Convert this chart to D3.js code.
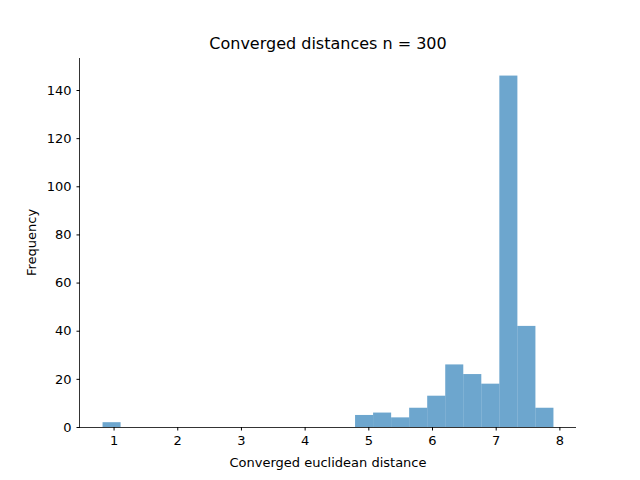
<!DOCTYPE html>
<html lang="en">
<head>
<meta charset="UTF-8">
<script src="https://d3js.org/d3.v7.min.js"></script>
<style>
  body { margin: 0; background: #fff; font-family: "DejaVu Sans", sans-serif; }
  .tick text { font-size: 13px; font-family: "DejaVu Sans", sans-serif; }
</style>
</head>
<body>
<svg width="640" height="480"></svg>
<script>
// histogram: 25 bins from binStart, width binWidth
const binStart = 0.827;
const binWidth = 0.2832;
const counts = [2, 0, 0, 0, 0, 0, 0, 0, 0, 0, 0, 0, 0, 0, 5, 6, 4, 8, 13, 26, 22, 18, 146, 42, 8];
const xTicks = [1, 2, 3, 4, 5, 6, 7, 8];
const yTicks = [0, 20, 40, 60, 80, 100, 120, 140];

const svg = d3.select("svg");
const plotL = 80, plotR = 576, plotT = 58, plotB = 427;

const bins = counts.map((c, i) => ({ x0: binStart + i * binWidth, x1: binStart + (i + 1) * binWidth, c }));
const xMin = bins[0].x0, xMax = bins[bins.length - 1].x1;
const pad = (xMax - xMin) * 0.05;

const x = d3.scaleLinear().domain([xMin - pad, xMax + pad]).range([plotL, plotR]);
const y = d3.scaleLinear().domain([0, d3.max(counts) * 1.05]).range([plotB, plotT]);

svg.append("g").selectAll("rect")
  .data(bins.filter(d => d.c > 0))
  .enter().append("rect")
  .attr("x", d => x(d.x0))
  .attr("width", d => x(d.x1) - x(d.x0))
  .attr("y", d => y(d.c))
  .attr("height", d => y(0) - y(d.c))
  .attr("fill", "#1f77b4")
  .attr("fill-opacity", 0.65);

svg.append("g")
  .attr("transform", `translate(0,${plotB})`)
  .call(d3.axisBottom(x).tickValues(xTicks).tickSize(3.5).tickPadding(5).tickSizeOuter(0))
  .call(g => g.select(".domain").attr("d", `M${plotL},0.5H${plotR}`));

svg.append("g")
  .attr("transform", `translate(${plotL},0)`)
  .call(d3.axisLeft(y).tickValues(yTicks).tickSize(3.5).tickPadding(5).tickSizeOuter(0))
  .call(g => g.select(".domain").attr("d", `M-0.5,${plotB}V${plotT}`));

svg.selectAll(".domain").attr("stroke", "#000").attr("stroke-width", 0.8);
svg.selectAll(".tick text").attr("fill", "#000");

svg.append("text")
  .attr("x", (plotL + plotR) / 2).attr("y", 49)
  .attr("text-anchor", "middle").style("font-size", "16px")
  .text("Converged distances n = 300");

svg.append("text")
  .attr("x", (plotL + plotR) / 2).attr("y", 467)
  .attr("text-anchor", "middle").style("font-size", "13px")
  .text("Converged euclidean distance");

svg.append("text")
  .attr("transform", `translate(36,${(plotT + plotB) / 2}) rotate(-90)`)
  .attr("text-anchor", "middle").style("font-size", "13px")
  .text("Frequency");
</script>
</body>
</html>
